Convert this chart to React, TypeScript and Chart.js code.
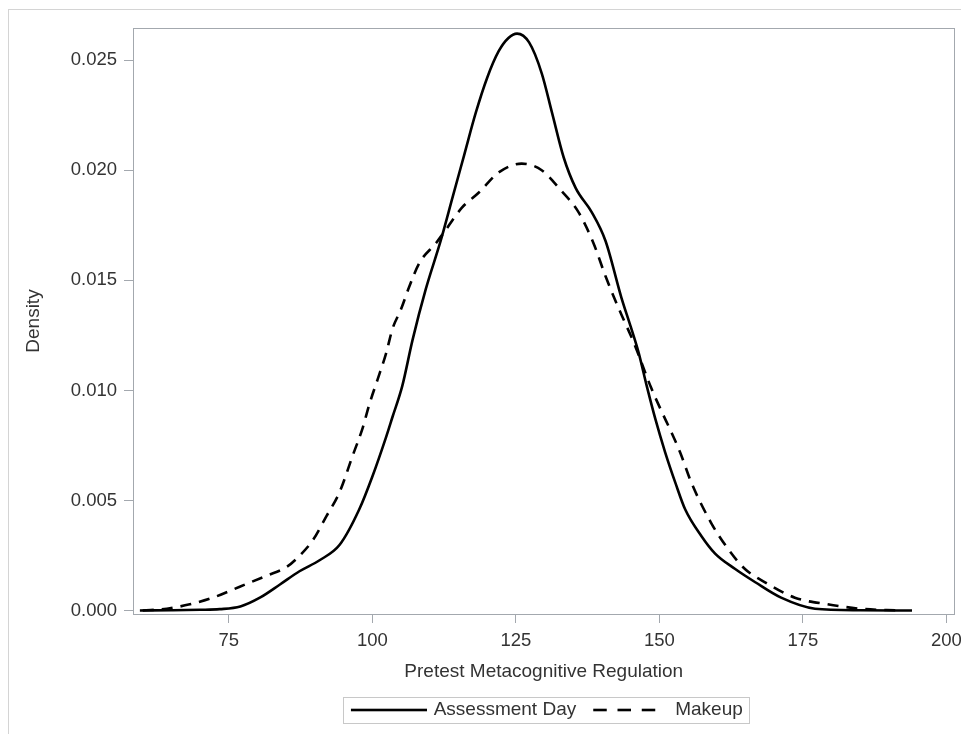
import React, { useEffect, useRef } from "react";
import { Chart, registerables } from "chart.js";

Chart.register(...registerables);

// ---- data ----
const seriesNames = ["Assessment Day", "Makeup"];
const xTitle = "Pretest Metacognitive Regulation";
const yTitle = "Density";
const xTicks = [75, 100, 125, 150, 175, 200];
const yTicks = [0, 0.005, 0.01, 0.015, 0.02, 0.025];

const assessmentX = [
  59.5, 65, 70, 73.4, 77, 80.4, 83.9, 87.3, 90.8, 94.3, 97.7, 100, 102.4, 103.5,
  105.2, 107, 109.3, 111.9, 114, 116, 118, 120, 122, 123.7, 125.2,
  127.3, 129.5, 131.3, 133.3, 135.4, 138.2, 140.6, 143.4, 145, 146.4, 147.8,
  149.3, 151, 152.8, 154.5, 157.3, 159.7, 163.2, 166.7, 171.2, 177.1, 185, 194,
];
const assessmentY = [
  0.00002, 0.00003, 0.00005, 0.00008, 0.0002, 0.0006, 0.0012, 0.0018, 0.0023,
  0.003, 0.0046, 0.0061, 0.0079, 0.0088, 0.0102, 0.0123, 0.0146, 0.0168, 0.0188,
  0.0207, 0.0226, 0.0242, 0.0254, 0.026, 0.0262, 0.0258, 0.0244, 0.0226,
  0.0206, 0.0192, 0.0181, 0.0168, 0.0142, 0.0129, 0.0117, 0.0102, 0.0087,
  0.0072, 0.0058, 0.0046, 0.0034, 0.0026, 0.0019, 0.0013, 0.0006, 0.0001,
  0.00003, 0.00002,
];

const makeupX = [
  60, 64.2, 68.2, 72.2, 76.9, 81.6, 85.1, 87.3, 89.6, 92, 94.3, 96.5, 98.3, 99.5,
  100.9, 102.4, 103.5, 105, 106.4, 108.2, 111.1, 112.8, 115.6, 118.6, 122, 126,
  129.5, 132.8, 135.9, 138.5, 140.6, 142.3, 143.8, 145.5, 148.6, 150.3, 152.1,
  153.6, 155.6, 159, 162, 164.9, 168.4, 173.6, 179.3, 185, 192,
];
const makeupY = [
  0.00002, 0.0001, 0.0003, 0.0006, 0.0011, 0.0016, 0.002, 0.0025, 0.0032,
  0.0043, 0.0054, 0.007, 0.0083, 0.0094, 0.0105, 0.0117, 0.0128, 0.0137,
  0.0147, 0.0158, 0.0167, 0.0173, 0.0183, 0.019, 0.0199, 0.0203, 0.02, 0.0191,
  0.0181, 0.0167, 0.0152, 0.0141, 0.0132, 0.0122, 0.0101, 0.0091, 0.0081,
  0.0072, 0.0058, 0.004, 0.0028, 0.0019, 0.0013, 0.0006, 0.0003, 0.0001,
  0.00002,
];

const FONT = "'Liberation Sans', Arial, Helvetica, sans-serif";
const TEXT = "#333333";
const AXIS = "#a3a8ae";

// legend sample images (solid line / three dashes)
function makeSample(dashed: boolean): HTMLCanvasElement {
  const c = document.createElement("canvas");
  c.width = dashed ? 80 : 85;
  c.height = 4;
  const g = c.getContext("2d")!;
  g.fillStyle = "#000000";
  if (dashed) {
    g.fillRect(7.25, 0.7, 13.5, 2.6);
    g.fillRect(31.5, 0.7, 13.5, 2.6);
    g.fillRect(55.75, 0.7, 13.5, 2.6);
  } else {
    g.fillRect(9, 0.7, 76, 2.6);
  }
  return c;
}

const framePlugin = {
  id: "frameAndLegendBox",
  beforeDatasetsDraw(chart: any) {
    const { ctx, chartArea: a } = chart;
    ctx.save();
    ctx.strokeStyle = AXIS;
    ctx.lineWidth = 1;
    ctx.strokeRect(
      Math.round(a.left) + 0.5,
      Math.round(a.top) + 0.5,
      Math.round(a.right - a.left),
      Math.round(a.bottom - a.top)
    );
    ctx.restore();
  },
  afterDraw(chart: any) {
    const hb = chart.legend && chart.legend.legendHitBoxes;
    if (!hb || !hb.length) return;
    const { ctx } = chart;
    const last = hb[hb.length - 1];
    const l = hb[0].left - 2;
    const r = last.left + last.width + 6;
    const cy = hb[0].top + hb[0].height / 2;
    ctx.save();
    ctx.strokeStyle = "#c8c8c8";
    ctx.lineWidth = 1;
    ctx.strokeRect(Math.round(l) + 0.5, Math.round(cy - 13) + 0.5, Math.round(r - l), 26);
    ctx.restore();
  },
};

export default function App() {
  const ref = useRef<HTMLCanvasElement | null>(null);

  useEffect(() => {
    if (!ref.current) return;
    const toPoints = (xs: number[], ys: number[]) => xs.map((x, i) => ({ x, y: ys[i] }));
    const chart = new Chart(ref.current, {
      type: "line",
      data: {
        datasets: [
          {
            label: seriesNames[0],
            data: toPoints(assessmentX, assessmentY),
            borderColor: "#000000",
            backgroundColor: "#000000",
            borderWidth: 2.6,
            pointRadius: 0,
            pointStyle: makeSample(false),
            fill: false,
            cubicInterpolationMode: "monotone",
          },
          {
            label: seriesNames[1],
            data: toPoints(makeupX, makeupY),
            borderColor: "#000000",
            backgroundColor: "#000000",
            borderWidth: 2.6,
            borderDash: [11, 8],
            pointRadius: 0,
            pointStyle: makeSample(true),
            fill: false,
            cubicInterpolationMode: "monotone",
          },
        ],
      },
      options: {
        animation: false,
        responsive: false,
        maintainAspectRatio: false,
        layout: { padding: { left: 0, right: 12, top: 18, bottom: 4.5 } },
        plugins: {
          tooltip: { enabled: false },
          legend: {
            position: "bottom",
            fullSize: false,
            labels: {
              usePointStyle: true,
              pointStyleWidth: 79.5,
              boxWidth: 79.5,
              padding: 10,
              color: TEXT,
              font: { family: FONT, size: 19 },
            },
          },
        },
        scales: {
          x: {
            type: "linear",
            min: 58.3,
            max: 201.4,
            afterBuildTicks: (s: any) => {
              s.ticks = xTicks.map((v) => ({ value: v }));
            },
            afterFit: (s: any) => {
              s.height = 76.5;
            },
            grid: { display: true, drawOnChartArea: false, drawTicks: true, tickLength: 9, color: AXIS },
            border: { display: false },
            ticks: { padding: 7, color: TEXT, font: { family: FONT, size: 18.5 }, maxRotation: 0 },
            title: {
              display: true,
              text: xTitle,
              color: TEXT,
              font: { family: FONT, size: 19 },
              padding: { top: 0, bottom: 7.6 },
            },
          },
          y: {
            type: "linear",
            min: -0.00014,
            max: 0.02645,
            afterBuildTicks: (s: any) => {
              s.ticks = yTicks.map((v) => ({ value: v }));
            },
            afterFit: (s: any) => {
              s.width = 124;
            },
            grid: { display: true, drawOnChartArea: false, drawTicks: true, tickLength: 9, color: AXIS },
            border: { display: false },
            ticks: {
              padding: 7,
              color: TEXT,
              font: { family: FONT, size: 18.5 },
              callback: (v: any) => Number(v).toFixed(3),
            },
            title: {
              display: true,
              text: yTitle,
              color: TEXT,
              font: { family: FONT, size: 19 },
              padding: { top: 13, bottom: 0 },
            },
          },
        },
      },
      plugins: [framePlugin],
    });
    return () => chart.destroy();
  }, []);

  return (
    <div
      style={{
        marginTop: 1,
        width: 970,
        height: 740,
        borderLeft: "1px solid #d4d4d4",
        borderTop: "1px solid #d4d4d4",
        overflow: "hidden",
        background: "#ffffff",
      }}
    >
      <canvas ref={ref} width={960} height={724} style={{ display: "block", width: 960, height: 724 }} />
    </div>
  );
}
